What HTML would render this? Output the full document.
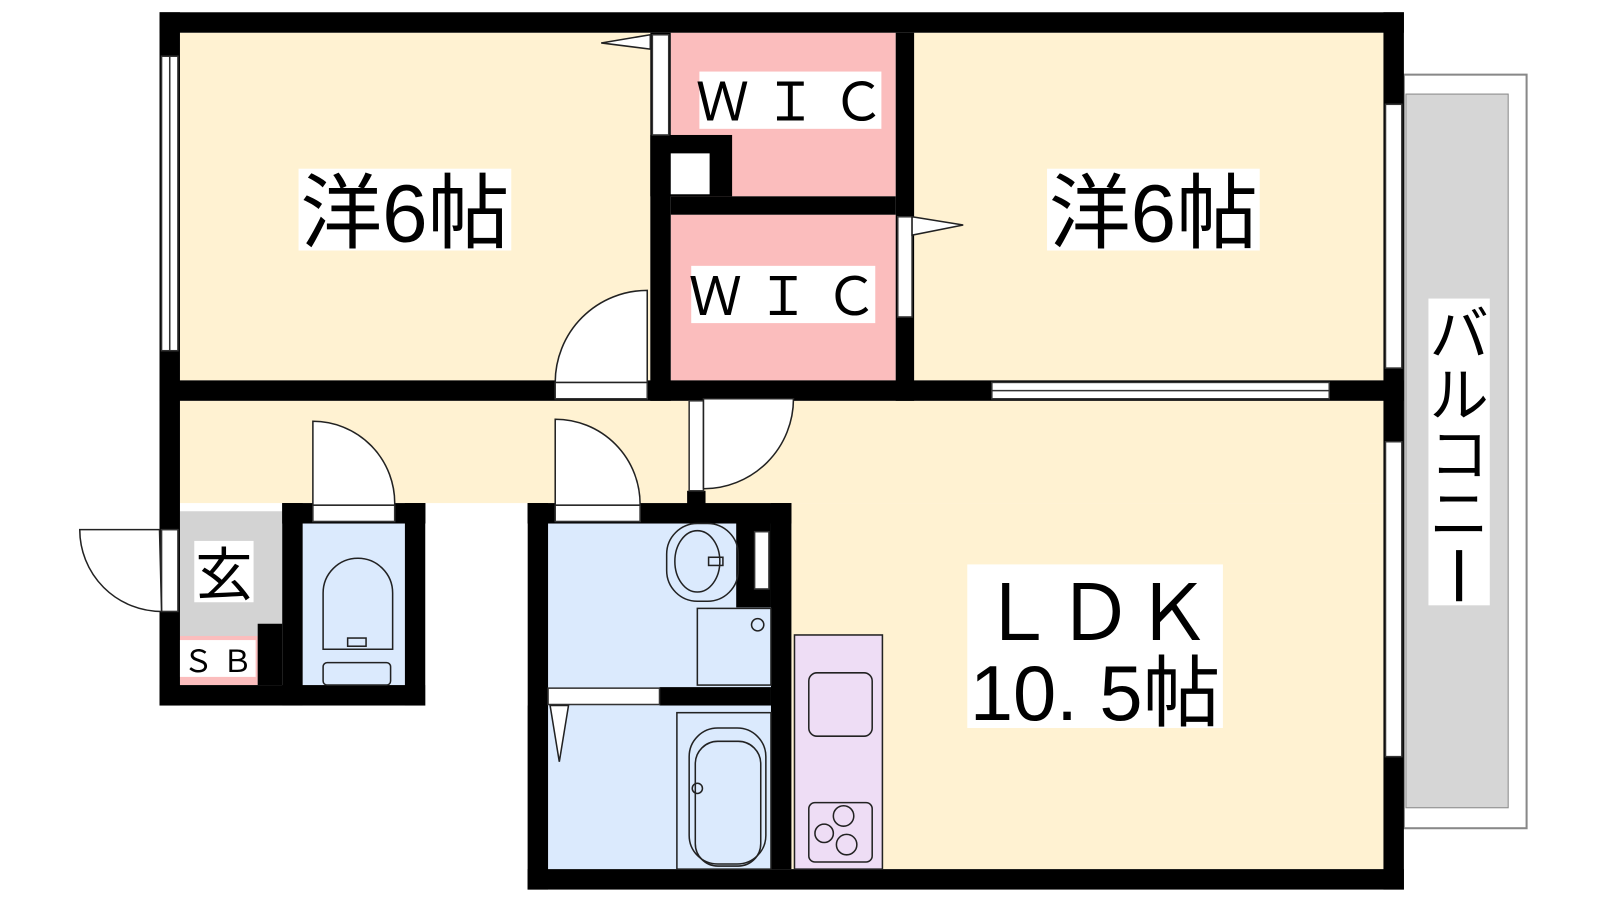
<!DOCTYPE html>
<html><head><meta charset="utf-8"><style>
html,body{margin:0;padding:0;background:#fff;}
svg{display:block;}
text{font-family:"Liberation Sans","Noto Sans CJK JP",sans-serif;}
</style></head><body>
<svg width="1600" height="900" viewBox="0 0 1600 900" xmlns="http://www.w3.org/2000/svg">
<g transform="scale(1.0225)">
<!-- balcony -->
<rect x="1373" y="73" width="120" height="737" fill="#fff" stroke="#888" stroke-width="2"/>
<rect x="1375" y="92" width="100" height="698" fill="#d6d6d6" stroke="#888" stroke-width="1"/>
<!-- floors -->
<rect x="176" y="32" width="460" height="340" fill="#fff2d2"/>
<rect x="894" y="32" width="459" height="340" fill="#fff2d2"/>
<rect x="656" y="32" width="220" height="160" fill="#fbbdbd"/>
<rect x="656" y="210" width="220" height="162" fill="#fbbdbd"/>
<rect x="176" y="392" width="1177" height="100" fill="#fff2d2"/>
<rect x="774" y="492" width="579" height="358" fill="#fff2d2"/>
<polygon points="176,500 276,500 276,610 252,610 252,622 176,622" fill="#d3d3d3"/>
<rect x="176" y="622" width="76" height="48" fill="#fbbdbd"/>
<rect x="296" y="512" width="100" height="158" fill="#dbeafd"/>
<rect x="536" y="512" width="218" height="338" fill="#dbeafd"/>
<!-- walls -->
<g fill="#000">
<rect x="156" y="12" width="1217" height="20"/>
<rect x="156" y="12" width="20" height="678"/>
<rect x="1353" y="12" width="20" height="858"/>
<rect x="516" y="850" width="857" height="20"/>
<rect x="156" y="372" width="1217" height="20"/>
<rect x="636" y="32" width="20" height="360"/>
<rect x="876" y="32" width="18" height="360"/>
<rect x="636" y="132" width="80" height="60"/>
<rect x="656" y="192" width="220" height="18"/>
<rect x="276" y="492" width="140" height="20"/>
<rect x="516" y="492" width="258" height="20"/>
<rect x="276" y="492" width="20" height="198"/>
<rect x="396" y="492" width="20" height="198"/>
<rect x="156" y="670" width="260" height="20"/>
<rect x="252" y="610" width="24" height="60"/>
<rect x="516" y="492" width="20" height="378"/>
<rect x="754" y="492" width="20" height="358"/>
<rect x="645" y="672" width="109" height="18"/>
<rect x="720" y="510" width="34" height="84"/>
<rect x="672" y="480" width="18" height="20"/>
</g>
<!-- openings -->
<g fill="#fff" stroke="#333" stroke-width="1.5">
<rect x="656" y="150" width="38" height="40" stroke="none"/>
<rect x="158" y="55" width="16" height="288"/>
<line x1="166" y1="55" x2="166" y2="343"/>
<rect x="1355" y="102" width="16" height="258"/>
<rect x="1355" y="432" width="16" height="308"/>
<rect x="970" y="374" width="330" height="16"/>
<line x1="970" y1="382" x2="1300" y2="382"/>
<rect x="638" y="34" width="16" height="98"/>
<rect x="878" y="212" width="14" height="98"/>
<rect x="543" y="374" width="90" height="16"/>
<rect x="306" y="494" width="80" height="16"/>
<rect x="543" y="494" width="83" height="16"/>
<rect x="674" y="392" width="14" height="88"/>
<rect x="536" y="673" width="109" height="16"/>
<rect x="158" y="518" width="16" height="80"/>
<rect x="416" y="512" width="100" height="178" stroke="none"/>
<rect x="738" y="520" width="14" height="56"/>
</g>
<!-- door swings -->
<g fill="#fff" stroke="#222" stroke-width="1.5">
<path d="M633,284 A90,90 0 0 0 543,374 L633,374 Z"/>
<path d="M306,412 A80,80 0 0 1 386,494 L306,494 Z"/>
<path d="M543,410 A83,83 0 0 1 626,494 L543,494 Z"/>
<path d="M688,390 L776,390 A88,88 0 0 1 688,478 Z"/>
<path d="M156,518 L78,518 A80,80 0 0 0 158,598 Z"/>
<path d="M636,34 L588,42 L636,48 Z"/>
<path d="M892,212 L942,220 L892,230 Z"/>
<path d="M538,690 L556,690 L547,745 Z"/>
</g>
<!-- fixtures -->
<g fill="none" stroke="#222" stroke-width="1.5">
<path d="M316,580 a34,34 0 0 1 68,0 v55 h-68 Z"/>
<rect x="316" y="648" width="66" height="22" rx="4"/>
<rect x="340" y="624" width="18" height="8"/>
<rect x="652" y="512" width="70" height="76" rx="30"/>
<ellipse cx="682" cy="549" rx="22" ry="30"/>
<rect x="693" y="545" width="14" height="8"/>
<rect x="682" y="595" width="72" height="75"/>
<circle cx="741" cy="611" r="6"/>
<rect x="662" y="697" width="92" height="153"/>
<rect x="674" y="712" width="75" height="133" rx="28"/>
<rect x="680" y="725" width="64" height="122" rx="22"/>
<circle cx="682" cy="771" r="5"/>
<rect x="777" y="621" width="86" height="229" fill="#eeddf5"/>
<rect x="791" y="658" width="62" height="62" rx="8"/>
<rect x="791" y="785" width="62" height="58" rx="6"/>
<circle cx="825" cy="798" r="10"/>
<circle cx="828" cy="826" r="10"/>
<circle cx="806" cy="815" r="9"/>
</g>
<!-- labels -->
<g>
<rect x="292" y="165" width="208" height="80" fill="#fff"/>
<text x="396" y="236" font-size="80" text-anchor="middle">洋6帖</text>
<rect x="1024" y="165" width="208" height="80" fill="#fff"/>
<text x="1128" y="236" font-size="80" text-anchor="middle">洋6帖</text>
<rect x="684" y="70" width="178" height="56" fill="#fff"/>
<text x="773" y="118" font-size="52" text-anchor="middle">Ｗ Ｉ Ｃ</text>
<rect x="676" y="260" width="180" height="56" fill="#fff"/>
<text x="766" y="308" font-size="52" text-anchor="middle">Ｗ Ｉ Ｃ</text>
<rect x="946" y="552" width="250" height="160" fill="#fff"/>
<text x="1071" y="626" font-size="76" text-anchor="middle">ＬＤＫ</text>
<text x="1071" y="704" font-size="76" text-anchor="middle">10. 5帖</text>
<rect x="190" y="529" width="58" height="60" fill="#fff"/>
<text x="219" y="582" font-size="56" text-anchor="middle">玄</text>
<rect x="176" y="626" width="74" height="36" fill="#fff"/>
<text x="213" y="657" font-size="30" text-anchor="middle">Ｓ Ｂ</text>
<rect x="1397" y="292" width="60" height="300" fill="#fff"/>
<text x="1427" y="347" font-size="58" text-anchor="middle">バ</text>
<text x="1427" y="407" font-size="58" text-anchor="middle">ル</text>
<text x="1427" y="465" font-size="58" text-anchor="middle">コ</text>
<text x="1427" y="523" font-size="58" text-anchor="middle">ニ</text>
<rect x="1424" y="538" width="6" height="50" fill="#000"/>
</g>
</g>
</svg>
</body></html>
